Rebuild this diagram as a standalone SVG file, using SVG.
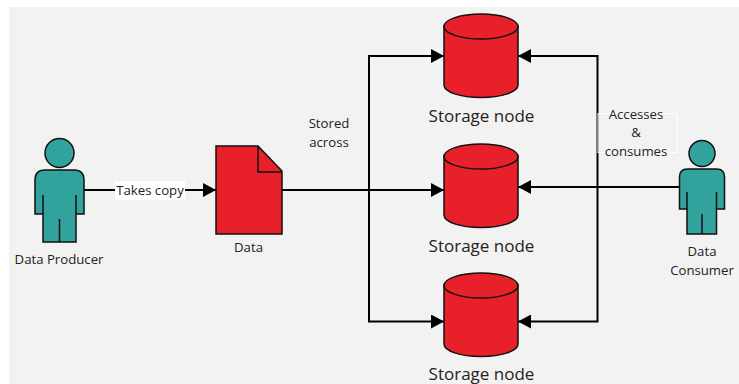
<svg xmlns="http://www.w3.org/2000/svg" width="739" height="384" viewBox="0 0 739 384">
<style>
text{font-family:"Open Sans","Noto Sans","Liberation Sans",sans-serif;fill:#222;text-anchor:middle}
.s{font-size:13.200px}
.l{font-size:17px}
.p{fill:#31a39c;stroke:#111;stroke-width:1.5}
.r{fill:#e8202a;stroke:#111;stroke-width:1.5}
.c{fill:none;stroke:#000;stroke-width:2}
</style>
<defs>
<marker id="a" markerUnits="userSpaceOnUse" markerWidth="14" markerHeight="14" refX="13" refY="7" orient="auto"><path d="M0 0L13 7L0 14Z" fill="#000"/></marker>
<g id="cyl"><path class="r" d="M444 26V85C444 92 460 97.500 481 97.500S518 92 518 85V26Z"/><ellipse class="r" cx="481" cy="26.500" rx="37" ry="12.500"/></g>
</defs>
<rect x="9" y="7" width="730" height="377" fill="#f2f2f2"/>
<g id="connectors">
<path class="c" d="M84 190H216" marker-end="url(#a)"/>
<path class="c" d="M282 190H444" marker-end="url(#a)"/>
<path class="c" d="M369 190V56H444" marker-end="url(#a)"/>
<path class="c" d="M369 190V321.500H444" marker-end="url(#a)"/>
<path class="c" d="M680 187H518" marker-end="url(#a)"/>
<path class="c" d="M597.500 187V56H518" marker-end="url(#a)"/>
<path class="c" d="M597.500 187V321.500H518" marker-end="url(#a)"/>
</g>
<g id="label-takes-copy"><rect x="115" y="181" width="70" height="19" fill="#fff"/><text class="s" x="150" y="195">Takes copy</text></g>
<g id="label-stored"><text class="s" x="329" y="128">Stored</text><text class="s" x="329" y="147">across</text></g>
<g id="label-accesses"><rect x="598" y="113.500" width="79" height="39" fill="none" stroke="#fff"/><text class="s" x="636" y="119">Accesses</text><text class="s" x="636" y="137">&amp;</text><text class="s" x="636" y="156">consumes</text></g>
<g id="producer">
<circle class="p" cx="59.500" cy="153" r="14.500"/>
<path class="p" d="M35 214V180Q35 170 45 170H74Q84 170 84 180V214H76V242H43V214Z"/>
<path fill="none" stroke="#111" stroke-width="1.500" d="M43 195V214M76 195V214M59.500 219V242"/>
<text class="s" x="59" y="264">Data Producer</text>
</g>
<g id="data">
<path class="r" d="M216 146H258L282 171V234H216Z"/>
<path fill="none" stroke="#111" stroke-width="1.500" d="M258 146V172H282"/>
<text class="s" x="248.500" y="252">Data</text>
</g>
<g id="storage1"><use href="#cyl"/><text class="l" x="481.500" y="122">Storage node</text></g>
<g id="storage2"><use href="#cyl" y="130"/><text class="l" x="481.500" y="252">Storage node</text></g>
<g id="storage3"><use href="#cyl" y="259"/><text class="l" x="481.500" y="380">Storage node</text></g>
<g id="consumer">
<circle class="p" cx="702" cy="153.500" r="13"/>
<path class="p" d="M679.500 209V177Q679.500 169 687.500 169H716.500Q724.500 169 724.500 177V209H716.500V234H687V209Z"/>
<path fill="none" stroke="#111" stroke-width="1.500" d="M687 192V209M716.500 192V209M702 214V234"/>
<text class="s" x="702" y="256">Data</text><text class="s" x="702" y="275">Consumer</text>
</g>
</svg>
